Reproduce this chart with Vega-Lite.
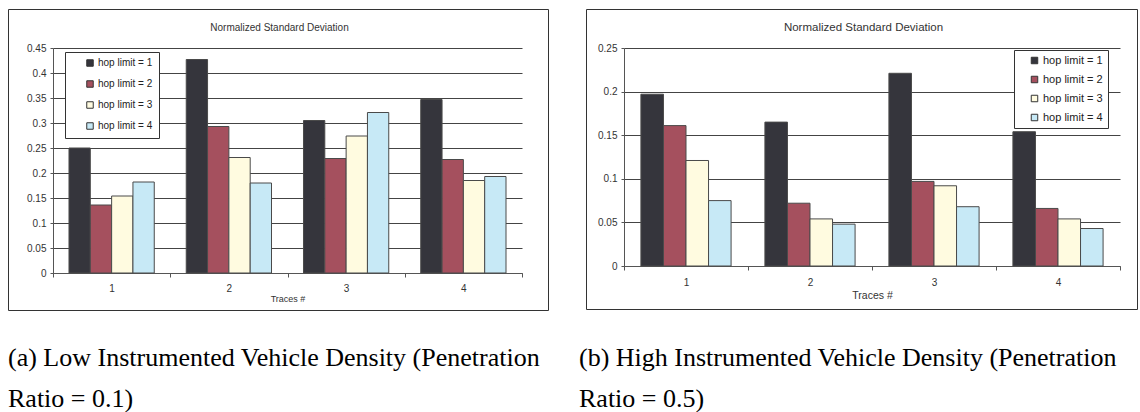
{
  "$schema": "https://vega.github.io/schema/vega-lite/v6.json",
  "padding": {"left": 7, "top": 8, "right": 0, "bottom": 0},
  "background": "white",
  "datasets": {
    "low": [
      {"trace": "1", "hop": "hop limit = 1", "value": 0.25},
      {"trace": "1", "hop": "hop limit = 2", "value": 0.136},
      {"trace": "1", "hop": "hop limit = 3", "value": 0.154},
      {"trace": "1", "hop": "hop limit = 4", "value": 0.182},
      {"trace": "2", "hop": "hop limit = 1", "value": 0.427},
      {"trace": "2", "hop": "hop limit = 2", "value": 0.293},
      {"trace": "2", "hop": "hop limit = 3", "value": 0.231},
      {"trace": "2", "hop": "hop limit = 4", "value": 0.18},
      {"trace": "3", "hop": "hop limit = 1", "value": 0.305},
      {"trace": "3", "hop": "hop limit = 2", "value": 0.229},
      {"trace": "3", "hop": "hop limit = 3", "value": 0.274},
      {"trace": "3", "hop": "hop limit = 4", "value": 0.321},
      {"trace": "4", "hop": "hop limit = 1", "value": 0.347},
      {"trace": "4", "hop": "hop limit = 2", "value": 0.227},
      {"trace": "4", "hop": "hop limit = 3", "value": 0.185},
      {"trace": "4", "hop": "hop limit = 4", "value": 0.193}
    ],
    "high": [
      {"trace": "1", "hop": "hop limit = 1", "value": 0.197},
      {"trace": "1", "hop": "hop limit = 2", "value": 0.161},
      {"trace": "1", "hop": "hop limit = 3", "value": 0.121},
      {"trace": "1", "hop": "hop limit = 4", "value": 0.075},
      {"trace": "2", "hop": "hop limit = 1", "value": 0.165},
      {"trace": "2", "hop": "hop limit = 2", "value": 0.072},
      {"trace": "2", "hop": "hop limit = 3", "value": 0.054},
      {"trace": "2", "hop": "hop limit = 4", "value": 0.048},
      {"trace": "3", "hop": "hop limit = 1", "value": 0.221},
      {"trace": "3", "hop": "hop limit = 2", "value": 0.097},
      {"trace": "3", "hop": "hop limit = 3", "value": 0.092},
      {"trace": "3", "hop": "hop limit = 4", "value": 0.068},
      {"trace": "4", "hop": "hop limit = 1", "value": 0.154},
      {"trace": "4", "hop": "hop limit = 2", "value": 0.066},
      {"trace": "4", "hop": "hop limit = 3", "value": 0.054},
      {"trace": "4", "hop": "hop limit = 4", "value": 0.043}
    ]
  },
  "config": {
    "view": {"stroke": "#333333", "strokeWidth": 1, "fill": "white"},
    "font": "Liberation Sans",
    "axis": {
      "labelFont": "Liberation Sans",
      "titleFont": "Liberation Sans",
      "labelColor": "#333333",
      "titleColor": "#333333",
      "titleFontWeight": "normal",
      "domainColor": "#555555",
      "tickColor": "#555555",
      "gridColor": "#444444",
      "gridOpacity": 1
    },
    "legend": {
      "labelFont": "Liberation Sans",
      "labelColor": "#222222",
      "strokeColor": "#333333",
      "fillColor": "white",
      "symbolType": "square",
      "symbolStrokeColor": "#333333",
      "symbolStrokeWidth": 1,
      "symbolSize": 42,
      "labelOffset": 3
    }
  },
  "spacing": 38,
  "bounds": "flush",
  "resolve": {
    "scale": {"x": "independent", "y": "independent", "fill": "independent", "xOffset": "independent"},
    "legend": {"fill": "independent"}
  },
  "hconcat": [
    {
      "width": 540,
      "height": 301,
      "data": {"name": "low"},
      "title": {
        "text": ["(a) Low Instrumented Vehicle Density (Penetration", "Ratio = 0.1)"],
        "orient": "bottom",
        "anchor": "start",
        "font": "Liberation Serif",
        "fontSize": 26,
        "fontWeight": "normal",
        "color": "black",
        "lineHeight": 41,
        "offset": 35
      },
      "mark": {"type": "bar", "stroke": "#4a4a4a", "strokeWidth": 1},
      "encoding": {
        "x": {
          "field": "trace",
          "type": "nominal",
          "scale": {"range": [45, 514], "paddingInner": 0, "paddingOuter": 0},
          "axis": {
            "title": "Traces #",
            "labelAngle": 0,
            "tickBand": "extent",
            "tickSize": 4,
            "labelPadding": 6,
            "titlePadding": 1,
            "offset": -37,
            "labelFontSize": 10,
            "titleFontSize": 9
          }
        },
        "xOffset": {"field": "hop", "type": "nominal", "scale": {"paddingInner": 0, "paddingOuter": 0.75}},
        "y": {
          "field": "value",
          "type": "quantitative",
          "scale": {"domain": [0, 0.45], "range": [264, 39], "nice": false, "zero": true},
          "axis": {
            "values": [0, 0.05, 0.1, 0.15, 0.2, 0.25, 0.3, 0.35, 0.4, 0.45],
            "format": ".2~f",
            "offset": -45,
            "tickSize": 3,
            "labelPadding": 4,
            "labelFontSize": 10,
            "grid": true,
            "title": "Normalized Standard Deviation",
            "titleAngle": 0,
            "titleX": 226,
            "titleY": 21,
            "titleAlign": "center",
            "titleBaseline": "alphabetic",
            "titleFontSize": 10
          }
        },
        "fill": {
          "field": "hop",
          "type": "nominal",
          "scale": {"range": ["#35353c", "#a5505e", "#fffbe0", "#c7e9f6"]},
          "legend": {
            "orient": "none",
            "legendX": 57,
            "legendY": 43,
            "title": null,
            "padding": 6,
            "symbolOffset": 14,
            "rowPadding": 9,
            "labelFontSize": 10
          }
        }
      }
    },
    {
      "width": 551,
      "height": 300,
      "data": {"name": "high"},
      "title": {
        "text": ["(b) High Instrumented Vehicle Density (Penetration", "Ratio = 0.5)"],
        "orient": "bottom",
        "anchor": "start",
        "font": "Liberation Serif",
        "fontSize": 26,
        "fontWeight": "normal",
        "color": "black",
        "lineHeight": 41,
        "offset": 36,
        "dx": -7
      },
      "mark": {"type": "bar", "stroke": "#4a4a4a", "strokeWidth": 1},
      "encoding": {
        "x": {
          "field": "trace",
          "type": "nominal",
          "scale": {"range": [38, 534], "paddingInner": 0, "paddingOuter": 0},
          "axis": {
            "title": "Traces #",
            "labelAngle": 0,
            "tickBand": "extent",
            "tickSize": 4,
            "labelPadding": 7,
            "titlePadding": 3,
            "offset": -43,
            "labelFontSize": 10,
            "titleFontSize": 10.5
          }
        },
        "xOffset": {"field": "hop", "type": "nominal", "scale": {"paddingInner": 0, "paddingOuter": 0.75}},
        "y": {
          "field": "value",
          "type": "quantitative",
          "scale": {"domain": [0, 0.25], "range": [257, 39], "nice": false, "zero": true},
          "axis": {
            "values": [0, 0.05, 0.1, 0.15, 0.2, 0.25],
            "format": ".2~f",
            "offset": -38,
            "tickSize": 3,
            "labelPadding": 4,
            "labelFontSize": 10,
            "grid": true,
            "title": "Normalized Standard Deviation",
            "titleAngle": 0,
            "titleX": 239,
            "titleY": 21,
            "titleAlign": "center",
            "titleBaseline": "alphabetic",
            "titleFontSize": 11.5
          }
        },
        "fill": {
          "field": "hop",
          "type": "nominal",
          "scale": {"range": ["#35353c", "#a5505e", "#fffbe0", "#c7e9f6"]},
          "legend": {
            "orient": "none",
            "legendX": 428,
            "legendY": 41,
            "title": null,
            "padding": 5,
            "symbolOffset": 10,
            "rowPadding": 7,
            "labelFontSize": 11
          }
        }
      }
    }
  ]
}
